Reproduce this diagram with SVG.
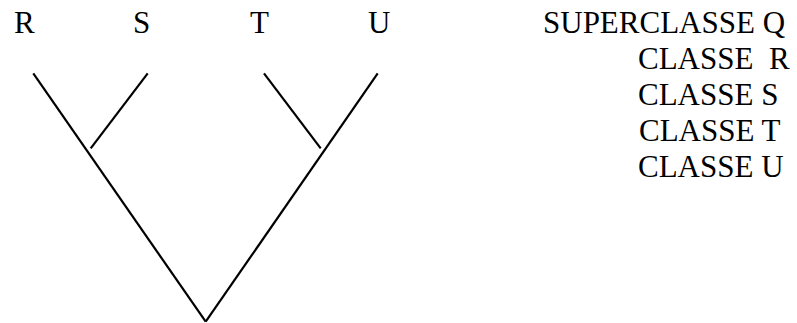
<svg xmlns="http://www.w3.org/2000/svg" width="797" height="323" viewBox="0 0 797 323">
<style>
.t{font-family:"Liberation Serif","Times New Roman",Times,serif;font-size:31px;fill:#000;white-space:pre}
.e{stroke:#000;stroke-width:2.2;fill:none;stroke-linecap:butt}
</style>
<rect width="797" height="323" fill="#fff"/>
<g id="leaf-R"><text class="t" x="14" y="33">R</text></g>
<g id="leaf-S"><text class="t" x="133" y="33">S</text></g>
<g id="leaf-T"><text class="t" x="250" y="33">T</text></g>
<g id="leaf-U"><text class="t" x="368" y="33">U</text></g>
<g id="legend">
<text class="t" x="543" y="33">SUPERCLASSE Q</text>
<text class="t" x="638" y="69" xml:space="preserve">CLASSE  R</text>
<text class="t" x="638" y="105">CLASSE S</text>
<text class="t" x="639" y="141">CLASSE T</text>
<text class="t" x="638" y="177">CLASSE U</text>
</g>
<g id="connectors">
<line class="e" x1="33.3" y1="73.3" x2="205.7" y2="321.7"/>
<line class="e" x1="377.7" y1="73.3" x2="205.7" y2="321.7"/>
<line class="e" x1="147.7" y1="73.3" x2="90.7" y2="148.3"/>
<line class="e" x1="264" y1="73.3" x2="320.7" y2="148.3"/>
</g>
</svg>
